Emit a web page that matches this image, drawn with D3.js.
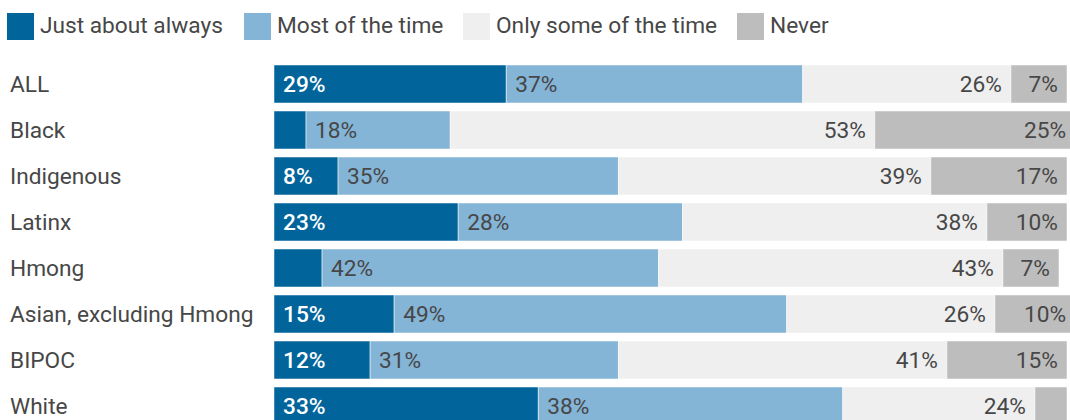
<!DOCTYPE html>
<html>
<head>
<meta charset="utf-8">
<script src="https://cdn.jsdelivr.net/npm/d3@7"></script>
<style>
	body { margin: 0; background: #fff; }
	svg { display: block; font-family: Roboto, "Noto Sans", sans-serif; }
</style>
</head>
<body>
<div id="chart"></div>
<script>
	'use strict';
	// data
	var categories = ['ALL', 'Black', 'Indigenous', 'Latinx', 'Hmong', 'Asian, excluding Hmong', 'BIPOC', 'White'];
	var seriesNames = ['Just about always', 'Most of the time', 'Only some of the time', 'Never'];
	var justAboutAlways = [29, 4, 8, 23, 6, 15, 12, 33];
	var mostOfTheTime = [37, 18, 35, 28, 42, 49, 31, 38];
	var onlySomeOfTheTime = [26, 53, 39, 38, 43, 26, 41, 24];
	var never = [7, 25, 17, 10, 7, 10, 15, 4];
	var colors = ['#01659b', '#84b4d6', '#efefef', '#bdbdbd'];

	var width = 1070, height = 420;
	var fontSize = 22.7;
	var seriesValues = [justAboutAlways, mostOfTheTime, onlySomeOfTheTime, never];

	var svg = d3.select('#chart').append('svg')
		.attr('width', width)
		.attr('height', height);

	// legend
	var legendX = [7, 244, 463, 737];
	var legend = svg.append('g').selectAll('g')
		.data(seriesNames)
		.enter().append('g')
		.attr('transform', function (d, i) { return 'translate(' + legendX[i] + ',13)'; });
	legend.append('rect')
		.attr('width', 27).attr('height', 27)
		.attr('fill', function (d, i) { return colors[i]; });
	legend.append('text')
		.attr('x', 33).attr('y', 20)
		.attr('font-size', fontSize)
		.attr('fill', '#474747')
		.text(function (d) { return d; });

	// rows, stacked left to right
	var rows = categories.map(function (c, i) {
		var x0 = 0;
		return {
			name: c,
			segs: seriesValues.map(function (s, k) {
				var seg = {k: k, v: s[i], x0: x0, x1: x0 + s[i]};
				x0 += s[i];
				return seg;
			})
		};
	});

	var x = d3.scaleLinear().domain([0, 100]).range([274, 1075]);
	var y = d3.scaleBand().domain(categories).range([65, 425]).paddingInner(8 / 46).paddingOuter(0);

	var row = svg.append('g').selectAll('g')
		.data(rows)
		.enter().append('g')
		.attr('transform', function (d) { return 'translate(0,' + y(d.name) + ')'; });

	row.append('text')
		.attr('x', 10)
		.attr('y', y.bandwidth() / 2)
		.attr('dy', '0.35em')
		.attr('font-size', fontSize)
		.attr('fill', '#474747')
		.text(function (d) { return d.name; });

	var seg = row.selectAll('g.seg')
		.data(function (d) { return d.segs; })
		.enter().append('g').attr('class', 'seg');

	seg.append('rect')
		.attr('x', function (d) { return x(d.x0); })
		.attr('width', function (d) { return x(d.x1) - x(d.x0); })
		.attr('height', y.bandwidth())
		.attr('fill', function (d) { return colors[d.k]; })
		.attr('stroke', 'rgba(255,255,255,0.5)')
		.attr('stroke-width', 1);

	seg.filter(function (d) { return d.v >= 7; })
		.append('text')
		.attr('x', function (d) { return d.k < 2 ? x(d.x0) + 9 : x(d.x1) - 9; })
		.attr('y', y.bandwidth() / 2)
		.attr('dy', '0.35em')
		.attr('text-anchor', function (d) { return d.k < 2 ? 'start' : 'end'; })
		.attr('font-size', fontSize)
		.attr('font-weight', function (d) { return d.k === 0 ? 500 : 'normal'; })
		.attr('fill', function (d) { return d.k === 0 ? '#fff' : '#474747'; })
		.text(function (d) { return d.v + '%'; });
</script>
</body>
</html>
